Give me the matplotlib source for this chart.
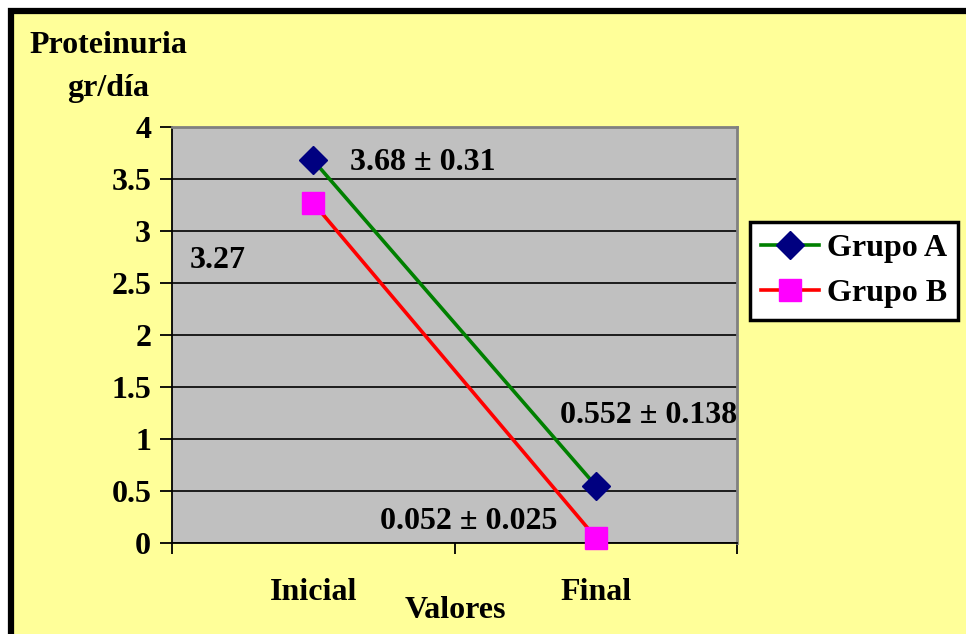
import matplotlib
matplotlib.use("Agg")
import matplotlib.pyplot as plt
from matplotlib.patches import Rectangle
from matplotlib.ticker import FuncFormatter

# datos
categorias = ["Inicial", "Final"]
grupo_a = [3.68, 0.552]
grupo_b = [3.27, 0.052]
etiquetas_a = ["3.68 ± 0.31", "0.552 ± 0.138"]
etiquetas_b = ["3.27", "0.052 ± 0.025"]
yticks = [0, 0.5, 1, 1.5, 2, 2.5, 3, 3.5, 4]

plt.rcParams["font.family"] = ["Liberation Serif", "DejaVu Serif"]
plt.rcParams["font.weight"] = "bold"
FS = 23

fig = plt.figure(figsize=(9.66, 6.34), dpi=100)
fig.patch.set_facecolor("white")

# marco amarillo con borde negro
W, H = 966, 634
fig.patches.append(Rectangle((11 / W, -0.2), 1.2, 1.2 - 11 / H,
                             transform=fig.transFigure, facecolor="#FFFF99",
                             edgecolor="black", linewidth=4.5, zorder=-10))

ax = fig.add_axes([172 / W, 1 - 543 / H, (737 - 172) / W, (543 - 127) / H])
ax.set_facecolor("#C0C0C0")

x = list(range(len(categorias)))
ax.plot(x, grupo_a, color="#008000", lw=2.6, marker="D", ms=14.5,
        mfc="#000080", mec="#000080", label="Grupo A", zorder=3, clip_on=False)
ax.plot(x, grupo_b, color="#FF0000", lw=2.6, marker="s", ms=16.5,
        mfc="#FF00FF", mec="#FF00FF", label="Grupo B", zorder=3, clip_on=False)

ax.set_xlim(-0.5, 1.5)
ax.set_ylim(0, 4)
ax.set_yticks(yticks)
ax.yaxis.set_major_formatter(FuncFormatter(lambda v, p: f"{v:g}"))
ax.grid(axis="y", color="black", lw=1.2)
ax.set_axisbelow(True)

ax.set_xticks([-0.5, 0.5, 1.5])
ax.set_xticklabels([])
ax.set_xticks(x, minor=True)
ax.set_xticklabels(categorias, minor=True, fontsize=FS, fontweight="bold")
ax.tick_params(axis="x", which="minor", length=0, pad=25)
ax.tick_params(axis="x", which="major", length=8, width=1.3, direction="out")
ax.tick_params(axis="y", length=9, width=1.3, labelsize=FS, pad=6)
for t in ax.get_yticklabels():
    t.set_fontweight("bold")

for s in ["top", "right"]:
    ax.spines[s].set_color("#808080")
    ax.spines[s].set_linewidth(2)
for s in ["left", "bottom"]:
    ax.spines[s].set_color("black")
    ax.spines[s].set_linewidth(1.3)

# etiquetas de valores
ax.text(0.13, 3.66, etiquetas_a[0], fontsize=FS, fontweight="bold", ha="left", va="center")
ax.text(-0.436, 2.72, etiquetas_b[0], fontsize=FS, fontweight="bold", ha="left", va="center")
ax.text(0.873, 1.23, etiquetas_a[1], fontsize=FS, fontweight="bold", ha="left", va="center")
ax.text(0.863, 0.21, etiquetas_b[1], fontsize=FS, fontweight="bold", ha="right", va="center")

fig.text(455 / W, 1 - 610 / H, "Valores", fontsize=FS, fontweight="bold",
         ha="center", va="center")
fig.text(108 / W, 1 - 67 / H, "Proteinuria\ngr/día", fontsize=FS, fontweight="bold",
         ha="center", va="center", multialignment="center", linespacing=1.65)

leg = fig.legend(loc="center", bbox_to_anchor=(854 / W, 1 - 271 / H),
                 fontsize=FS, frameon=True, fancybox=False, framealpha=1,
                 handlelength=1.8, labelspacing=0.5, borderpad=0.35,
                 handletextpad=0.25, borderaxespad=0)
leg.get_frame().set_edgecolor("black")
leg.get_frame().set_linewidth(2.5)
leg.get_frame().set_facecolor("white")
for t in leg.get_texts():
    t.set_fontweight("bold")

fig.savefig("out.png", dpi=100)
